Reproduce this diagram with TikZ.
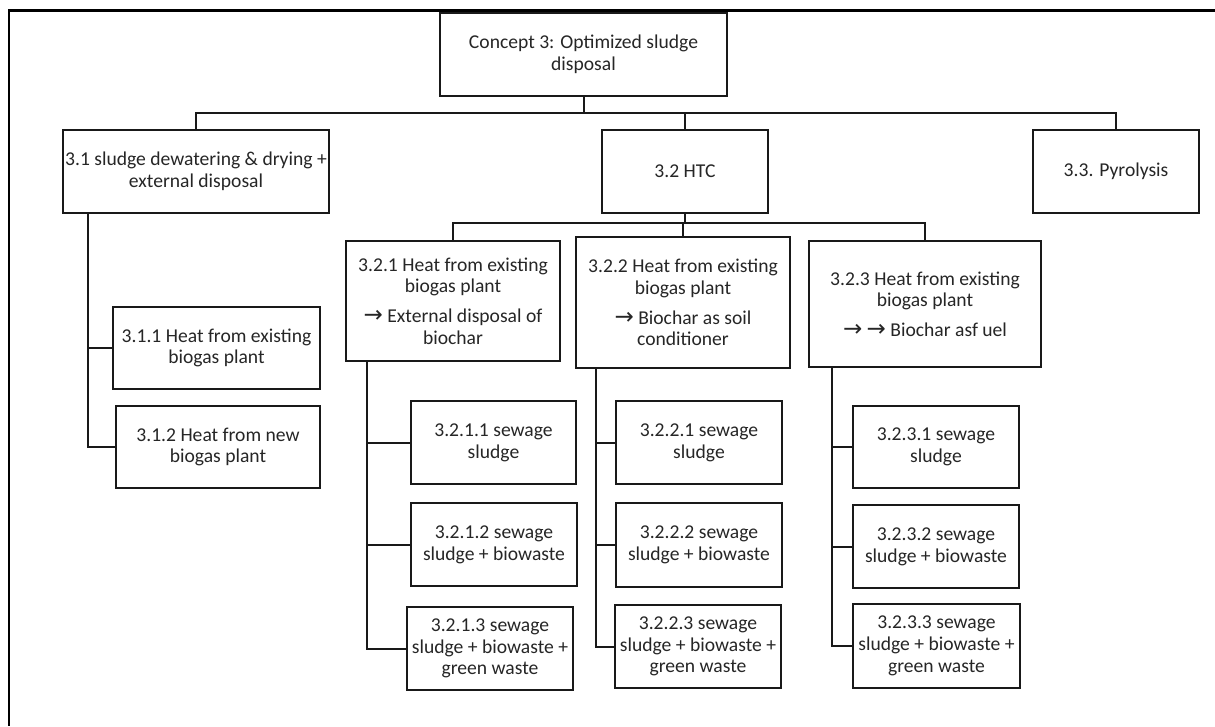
\documentclass[tikz,border=0pt]{standalone}
\usepackage{fontspec}
\setmainfont{Carlito}
\newfontfamily\arrowfont{DejaVu Sans}
\newcommand{\rarr}{{\arrowfont\fontsize{23}{21.7}\selectfont\char"2192}}
\begin{document}
\begin{tikzpicture}[x=1pt,y=-1pt,
  box/.style={draw=black!90, line width=2pt, fill=white, align=center, inner sep=0pt,
    font=\fontsize{19.6}{21.7}\selectfont, text=black!85},
  link/.style={draw=black!90, line width=2pt},
  frame/.style={draw=black, line width=2.8pt}]
\useasboundingbox (0,0) rectangle (1215,726);
% outer frame (open to the right and below)
\draw[frame] (1215,10.5) -- (9,10.5) -- (9,726);

% top level
\node[box, minimum width=287pt, minimum height=83pt] (root) at (583.5,54.5) {Concept 3: Optimized sludge\\disposal};

% second level
\node[box, minimum width=266pt, minimum height=83pt] (n31) at (196,171.5) {3.1 sludge dewatering \& drying +\\external disposal};
\node[box, minimum width=166pt, minimum height=83pt] (n32) at (685,171.5) {3.2 HTC};
\node[box, minimum width=166pt, minimum height=83pt] (n33) at (1116,171.5) {3.3. Pyrolysis};

% branch 3.1
\node[box, minimum width=207pt, minimum height=82pt] (n311) at (216.5,348) {3.1.1 Heat from existing\\biogas plant};
\node[box, minimum width=204pt, minimum height=82pt] (n312) at (218,447) {3.1.2 Heat from new\\biogas plant};

% branch 3.2
\node[box, minimum width=214pt, minimum height=120pt] (n321) at (453,301) {3.2.1 Heat from existing\\biogas plant\\[8pt]\rarr{} External disposal of\\biochar};
\node[box, minimum width=214pt, minimum height=131pt] (n322) at (683,302.5) {3.2.2 Heat from existing\\biogas plant\\[8pt]\rarr{} Biochar as soil\\conditioner};
\node[box, minimum width=232pt, minimum height=126pt] (n323) at (925,304) {3.2.3 Heat from existing\\biogas plant\\[8pt]\rarr{} \rarr{} Biochar asf uel};

\node[box, minimum width=165pt, minimum height=83pt] (n3211) at (493.5,442.5) {3.2.1.1 sewage\\sludge};
\node[box, minimum width=166pt, minimum height=83pt] (n3212) at (494,544.5) {3.2.1.2 sewage\\sludge + biowaste};
\node[box, minimum width=166pt, minimum height=83pt] (n3213) at (490,648.5) {3.2.1.3 sewage\\sludge + biowaste +\\green waste};

\node[box, minimum width=166pt, minimum height=83pt] (n3221) at (699,442.5) {3.2.2.1 sewage\\sludge};
\node[box, minimum width=166pt, minimum height=84pt] (n3222) at (699,545) {3.2.2.2 sewage\\sludge + biowaste};
\node[box, minimum width=166pt, minimum height=83pt] (n3223) at (698,646.5) {3.2.2.3 sewage\\sludge + biowaste +\\green waste};

\node[box, minimum width=166pt, minimum height=82pt] (n3231) at (936,447) {3.2.3.1 sewage\\sludge};
\node[box, minimum width=166pt, minimum height=83pt] (n3232) at (936,546.5) {3.2.3.2 sewage\\sludge + biowaste};
\node[box, minimum width=167pt, minimum height=84pt] (n3233) at (936.5,646) {3.2.3.3 sewage\\sludge + biowaste +\\green waste};

% connectors: concept to main options
\coordinate (bus2) at (583.5,113);
\draw[link] (root.south) -- (bus2);
\draw[link] (n31.north) |- (bus2) -| (n33.north);
\draw[link] (bus2 -| n32.north) -- (n32.north);

% connectors: HTC to variants
\coordinate (bus3) at (685,223);
\draw[link] (n32.south) -- (bus3);
\draw[link] (n321.north) |- (bus3) -| (n323.north);
\draw[link] (bus3 -| n322.north) -- (n322.north);

% trunks to the leaf boxes
\coordinate (t31) at ([xshift=26pt]n31.south west);
\draw[link] (t31) |- (n312.west);
\draw[link] (t31 |- n311.west) -- (n311.west);

\coordinate (t321) at ([xshift=22pt]n321.south west);
\draw[link] (t321) |- (n3213.west);
\draw[link] (t321 |- n3211.west) -- (n3211.west);
\draw[link] (t321 |- n3212.west) -- (n3212.west);

\coordinate (t322) at ([xshift=21pt]n322.south west);
\draw[link] (t322) |- (n3223.west);
\draw[link] (t322 |- n3221.west) -- (n3221.west);
\draw[link] (t322 |- n3222.west) -- (n3222.west);

\coordinate (t323) at ([xshift=24pt]n323.south west);
\draw[link] (t323) |- (n3233.west);
\draw[link] (t323 |- n3231.west) -- (n3231.west);
\draw[link] (t323 |- n3232.west) -- (n3232.west);
\end{tikzpicture}
\end{document}
